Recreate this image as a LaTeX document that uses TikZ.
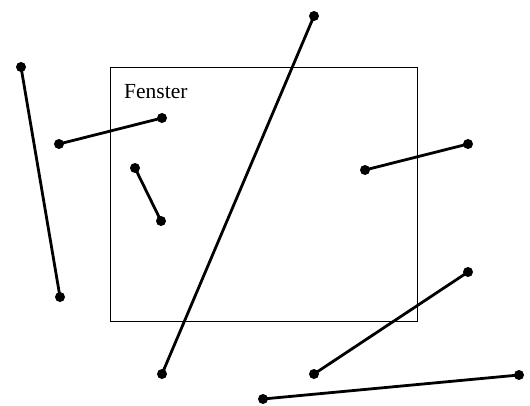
\documentclass[tikz,border=0pt]{standalone}
\usepackage{fontspec}
\setmainfont{Liberation Serif}
\begin{document}
\begin{tikzpicture}[x=1pt,y=-1pt,
  dot/.style={circle,fill=black,inner sep=0pt,minimum size=10pt},
  seg/.style={line width=2.8pt},
  win/.style={draw=black,line width=1pt}]
\useasboundingbox (0,0) rectangle (530,406);
\node[win,minimum width=307pt,minimum height=254pt,inner sep=0pt,anchor=north west] (fenster) at (110,67) {};
\node[anchor=west,font=\fontsize{21.5}{24}\selectfont,inner sep=0pt] (label) at (124,92) {Fenster};
\node[dot] (a1) at (21,67) {};
\node[dot] (a2) at (60,297) {};
\node[dot] (b1) at (59,144) {};
\node[dot] (b2) at (162,118) {};
\node[dot] (c1) at (135,168) {};
\node[dot] (c2) at (161,221) {};
\node[dot] (d1) at (314,16) {};
\node[dot] (d2) at (162,374) {};
\node[dot] (e1) at (365,170) {};
\node[dot] (e2) at (468,144) {};
\node[dot] (f1) at (468,272) {};
\node[dot] (f2) at (314,374) {};
\node[dot] (g1) at (263,399) {};
\node[dot] (g2) at (519,375) {};
\draw[seg] (a1.center) -- (a2.center);
\draw[seg] (b1.center) -- (b2.center);
\draw[seg] (c1.center) -- (c2.center);
\draw[seg] (d1.center) -- (d2.center);
\draw[seg] (e1.center) -- (e2.center);
\draw[seg] (f1.center) -- (f2.center);
\draw[seg] (g1.center) -- (g2.center);
\end{tikzpicture}
\end{document}
